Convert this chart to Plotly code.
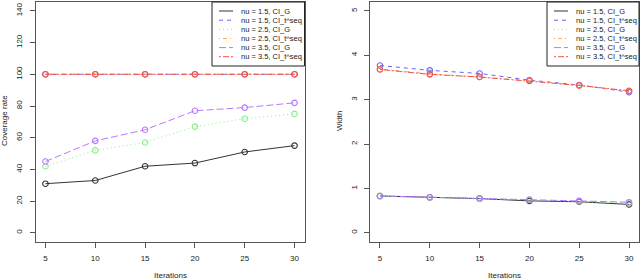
import plotly.graph_objects as go

iterations = [5, 10, 15, 20, 25, 30]
x_ticks = [5, 10, 15, 20, 25, 30]

series_names = ["nu = 1.5, CI_G", "nu = 1.5, CI_t^seq", "nu = 2.5, CI_G",
                "nu = 2.5, CI_t^seq", "nu = 3.5, CI_G", "nu = 3.5, CI_t^seq"]

# Coverage rate (left panel)
cov_nu15_G = [31, 33, 42, 44, 51, 55]
cov_nu15_T = [100, 100, 100, 100, 100, 100]
cov_nu25_G = [42, 52, 57, 67, 72, 75]
cov_nu25_T = [100, 100, 100, 100, 100, 100]
cov_nu35_G = [45, 58, 65, 77, 79, 82]
cov_nu35_T = [100, 100, 100, 100, 100, 100]
cov_ticks = [0, 20, 40, 60, 80, 100, 120, 140]

# Width (right panel)
wid_nu15_G = [0.83, 0.80, 0.77, 0.72, 0.70, 0.64]
wid_nu15_T = [3.77, 3.66, 3.59, 3.44, 3.33, 3.17]
wid_nu25_G = [0.82, 0.80, 0.77, 0.74, 0.71, 0.67]
wid_nu25_T = [3.69, 3.58, 3.51, 3.43, 3.32, 3.19]
wid_nu35_G = [0.83, 0.80, 0.78, 0.75, 0.72, 0.69]
wid_nu35_T = [3.68, 3.57, 3.51, 3.42, 3.32, 3.20]
wid_ticks = [0, 1, 2, 3, 4, 5]

colors = ["#333333", "#6464ff", "#88f088", "#ffa860", "#b878ff", "#f05050"]
dashes = ["solid", "4px,4px", "1px,3px", "1px,3px,4px,3px", "7px,3px", "2px,2px,6px,2px"]

cov = [cov_nu15_G, cov_nu15_T, cov_nu25_G, cov_nu25_T, cov_nu35_G, cov_nu35_T]
wid = [wid_nu15_G, wid_nu15_T, wid_nu25_G, wid_nu25_T, wid_nu35_G, wid_nu35_T]

FONT = "Liberation Sans, Arial, sans-serif"
W, H = 640, 279
fig = go.Figure()

for data, xa, ya in [(cov, "x", "y"), (wid, "x2", "y2")]:
    for i, ys in enumerate(data):
        fig.add_trace(go.Scatter(
            x=iterations, y=ys, mode="lines+markers", xaxis=xa, yaxis=ya, name=series_names[i],
            line=dict(color=colors[i], width=1, dash=dashes[i]),
            marker=dict(symbol="circle-open", size=5.5, color=colors[i], line=dict(width=1.1, color=colors[i])),
            showlegend=False, cliponaxis=False))

ybot = (H - 241.7) / H
ytop = (H - 2) / H

axis_common = dict(showline=True, linecolor="#555555", linewidth=1, mirror=True,
                   ticks="outside", ticklen=5, tickcolor="#555555", showgrid=False, zeroline=False,
                   tickfont=dict(family=FONT, size=8, color="#222222"))

# manual R-style legends (line sample + label), box in pixel coordinates
shapes = []
annotations = []
row_y = [11, 20.2, 29.3, 38.5, 47.6, 56.7]
for box_left, box_right in [(212, 304.5), (547, 639)]:
    shapes.append(dict(type="rect", xref="paper", yref="paper",
                       x0=box_left / W, x1=box_right / W, y0=(H - 66) / H, y1=(H - 2) / H,
                       line=dict(color="#222222", width=1), fillcolor="white", layer="above"))
    for i, name in enumerate(series_names):
        yy = (H - row_y[i]) / H
        shapes.append(dict(type="line", xref="paper", yref="paper",
                           x0=(box_left + 7) / W, x1=(box_left + 21) / W, y0=yy, y1=yy,
                           line=dict(color=colors[i], width=1, dash=dashes[i]), layer="above"))
        annotations.append(dict(text=name, x=(box_left + 27) / W, y=yy, xref="paper", yref="paper",
                                xanchor="left", yanchor="middle", showarrow=False,
                                font=dict(family=FONT, size=7.5, color="#222222")))

annotations += [
    dict(text="Iterations", x=(35.5 + 304.5) / 2 / W, y=(H - 275) / H, xref="paper", yref="paper",
         xanchor="center", yanchor="middle", showarrow=False, font=dict(family=FONT, size=8)),
    dict(text="Iterations", x=(370 + 639) / 2 / W, y=(H - 275) / H, xref="paper", yref="paper",
         xanchor="center", yanchor="middle", showarrow=False, font=dict(family=FONT, size=8)),
    dict(text="Coverage rate", x=4 / W, y=(H - 121) / H, xref="paper", yref="paper", textangle=-90,
         xanchor="center", yanchor="middle", showarrow=False, font=dict(family=FONT, size=8)),
    dict(text="Width", x=339 / W, y=(H - 121) / H, xref="paper", yref="paper", textangle=-90,
         xanchor="center", yanchor="middle", showarrow=False, font=dict(family=FONT, size=8)),
]

fig.update_layout(
    width=W, height=H, margin=dict(l=0, r=0, t=0, b=0),
    paper_bgcolor="white", plot_bgcolor="white",
    font=dict(family=FONT, size=8, color="#222222"),
    showlegend=False,
    xaxis=dict(domain=[35.5 / W, 304.5 / W], range=[4, 31], tickvals=x_ticks, anchor="y",
               ticklabelstandoff=4, **axis_common),
    yaxis=dict(domain=[ybot, ytop], range=[-5.6, 145.6], tickvals=cov_ticks, tickangle=-90, anchor="x",
               ticklabelstandoff=4, **axis_common),
    xaxis2=dict(domain=[370 / W, 639 / W], range=[4, 31], tickvals=x_ticks, anchor="y2",
                ticklabelstandoff=4, **axis_common),
    yaxis2=dict(domain=[ybot, ytop], range=[-0.2, 5.2], tickvals=wid_ticks, tickangle=-90, anchor="x2",
                ticklabelstandoff=4, **axis_common),
    shapes=shapes,
    annotations=annotations,
)

fig.write_html("out.html", config={"displayModeBar": False},
               post_script="document.body.style.margin='0';document.body.style.overflow='hidden';")
